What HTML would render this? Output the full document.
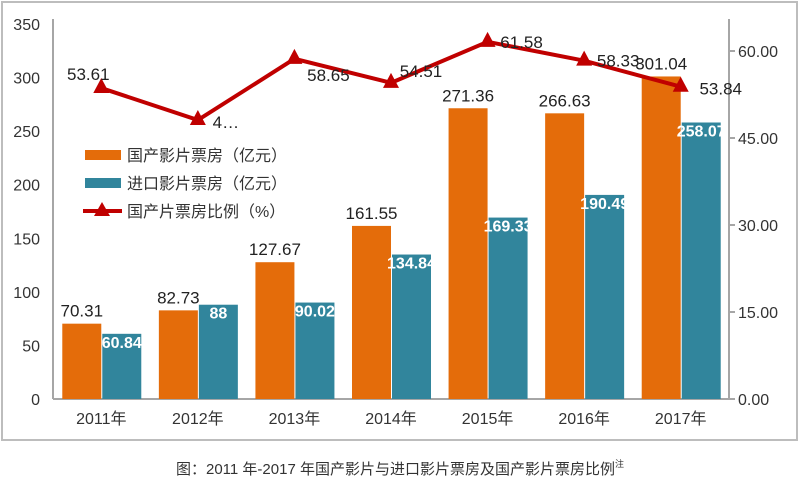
<!DOCTYPE html>
<html><head><meta charset="utf-8"><style>
body{margin:0;background:#fff;width:800px;height:487px;overflow:hidden;font-family:"Liberation Sans","Noto Sans CJK SC",sans-serif}
</style></head><body>
<svg id="c" width="800" height="487" xmlns="http://www.w3.org/2000/svg" font-family="Liberation Sans, Noto Sans CJK SC, sans-serif">
<rect x="2" y="2" width="795" height="438" fill="#fff" stroke="#bdbdbd" stroke-width="2"/>
<text x="400" y="474" text-anchor="middle" font-size="15" fill="#333">图：2011 年-2017 年国产影片与进口影片票房及国产影片票房比例<tspan font-size="9" dy="-7">注</tspan></text>
</svg>
<script>
const categories=["2011年","2012年","2013年","2014年","2015年","2016年","2017年"];
const domestic=[70.31,82.73,127.67,161.55,271.36,266.63,301.04];
const imported=[60.84,88,90.02,134.84,169.33,190.49,258.07];
const ratio=[53.61,48.1,58.65,54.51,61.58,58.33,53.84];
const ratioLabels=["53.61","4…","58.65","54.51","61.58","58.33","53.84"];
const leftTicks=[0,50,100,150,200,250,300,350];
const rightTicks=["0.00","15.00","30.00","45.00","60.00"];
const NS="http://www.w3.org/2000/svg";
const svg=document.getElementById('c');
const X0=53,X1=729,Y0=399;
const yL=v=>Y0-v*(375/350);
const yR=v=>Y0-v*5.8;
const bw=(X1-X0)/categories.length;
const cx=i=>X0+bw*(i+0.5);
function mk(t,a,p){const e=document.createElementNS(NS,t);for(const k in a)e.setAttribute(k,a[k]);(p||svg).appendChild(e);return e;}
// axes
let e=mk('line',{x1:X0,y1:yL(350)-5,x2:X0,y2:Y0,stroke:'#a6a6a6','stroke-width':2});


e=mk('line',{x1:X1,y1:yL(350)-5,x2:X1,y2:Y0,stroke:'#a6a6a6','stroke-width':2});


e=mk('line',{x1:X0,y1:Y0,x2:X1,y2:Y0,stroke:'#a6a6a6','stroke-width':2});


leftTicks.forEach(v=>{const t=mk('text',{x:40,y:yL(v)+6,'text-anchor':'end','font-size':16,fill:'#333'});t.textContent=v;

});
rightTicks.forEach(s=>{const v=parseFloat(s);const l=mk('line',{x1:X1,y1:yR(v),x2:X1+6,y2:yR(v),stroke:'#a6a6a6','stroke-width':2});


const t=mk('text',{x:738,y:yR(v)+6,'font-size':16,fill:'#333'});t.textContent=s;

});
// bars
const BW=39;
categories.forEach((c,i)=>{
 const x=cx(i);
 let r=mk('rect',{x:x-BW,y:yL(domestic[i]),width:BW,height:Y0-yL(domestic[i]),fill:'#e46c0a'});
 
 
 r=mk('rect',{x:x+1,y:yL(imported[i]),width:BW,height:Y0-yL(imported[i]),fill:'#31859c'});
 
 
 let t=mk('text',{x:x-BW/2,y:yL(domestic[i])-7,'text-anchor':'middle','font-size':17,fill:'#222'});t.textContent=domestic[i];
 
 
 t=mk('text',{x:x+BW/2+1,y:yL(imported[i])+14,'text-anchor':'middle','font-size':16,'font-weight':'bold',fill:'#fff'});t.textContent=imported[i];
 
 
 t=mk('text',{x:x,y:424,'text-anchor':'middle','font-size':16,fill:'#333'});t.textContent=c;
 
 
});
// line
const pts=ratio.map((v,i)=>cx(i)+','+yR(v)).join(' ');
e=mk('polyline',{points:pts,fill:'none',stroke:'#c00000','stroke-width':4});


const offs=[[-13,-8],[28,8],[34,22],[30,-6],[34,6],[34,6],[40,8]];
ratio.forEach((v,i)=>{const x=cx(i),y=yR(v);
 const p=mk('polygon',{points:`${x},${y-10} ${x-8},${y+5} ${x+8},${y+5}`,fill:'#c00000'});
 
 
 const t=mk('text',{x:x+offs[i][0],y:y+offs[i][1],'text-anchor':'middle','font-size':17,fill:'#222'});t.textContent=ratioLabels[i];
 
 
});
// legend
const lg=[["国产影片票房（亿元）",'#e46c0a','rect'],["进口影片票房（亿元）",'#31859c','rect'],["国产片票房比例（%）",'#c00000','line']];
lg.forEach((l,i)=>{const y=155+i*28;
 if(l[2]==='rect'){const r=mk('rect',{x:85,y:y-5,width:36,height:10,fill:l[1]});
  
  }
 else{const a=mk('line',{x1:83,y1:y,x2:122,y2:y,stroke:l[1],'stroke-width':4});
  
  
  const p=mk('polygon',{points:`102,${y-9} 94,${y+5} 110,${y+5}`,fill:l[1]});
  
  }
 const t=mk('text',{x:127,y:y+6,'font-size':16,fill:'#333'});t.textContent=l[0];
 
 
});
</script>
</body></html>
